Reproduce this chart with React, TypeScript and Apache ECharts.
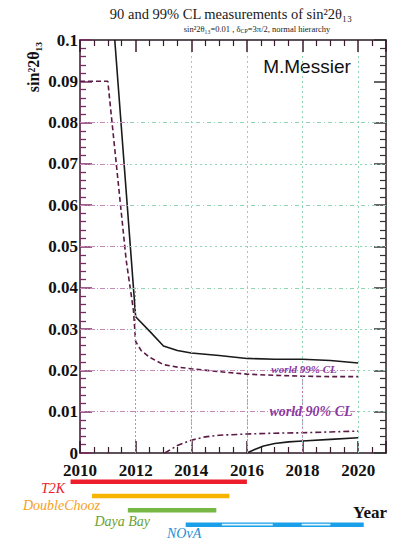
import React, { useEffect, useRef } from 'react';
import * as echarts from 'echarts';

// ---- data ----
const xMin = 2010;
const xMax = 2021;
const yMin = 0;
const yMax = 0.1;

// upper limits
const upper99: [number, number][] = [
  [2011.25, 0.1], [2012.0, 0.033], [2012.5, 0.0295], [2013.0, 0.0259], [2013.5, 0.0248],
  [2014.0, 0.0242], [2015.0, 0.0236], [2016.0, 0.0229], [2017.0, 0.0227], [2018.0, 0.0227],
  [2019.0, 0.0224], [2020.0, 0.0218],
];
const upper90: [number, number][] = [
  [2010.0, 0.09], [2011.0, 0.09], [2011.66, 0.0467], [2011.92, 0.0346], [2012.0, 0.027],
  [2012.2, 0.0248], [2012.5, 0.0232], [2013.0, 0.0214], [2013.5, 0.0208], [2014.0, 0.0204],
  [2015.0, 0.0197], [2016.0, 0.0191], [2017.0, 0.0188], [2018.0, 0.0186], [2019.0, 0.0185],
  [2020.0, 0.0185],
];
// lower limits
const lower90: [number, number][] = [
  [2013.05, 0.0], [2013.5, 0.0018], [2014.0, 0.0031], [2014.5, 0.0039], [2015.0, 0.0043],
  [2016.0, 0.0046], [2017.0, 0.0048], [2018.0, 0.0049], [2019.0, 0.0051], [2020.0, 0.0053],
];
const lower99: [number, number][] = [
  [2016.0, 0.0], [2016.3, 0.0009], [2016.6, 0.0017], [2017.0, 0.0023], [2017.5, 0.0027],
  [2018.0, 0.0029], [2019.0, 0.0033], [2020.0, 0.0037],
];

// experiments running periods
const experiments = ['T2K', 'DoubleChooz', 'Daya Bay', 'NOvA'];
const expStart = [2009.66, 2010.43, 2011.72, 2013.8];
const expEnd = [2016.0, 2015.37, 2014.9, 2020.2];
const novaHighlights: [number, number][] = [[2015.1, 2016.93], [2017.97, 2019.0]];

// grid line positions
const gridYearsGreen = [2014, 2016, 2018, 2020];
const gridYearsPink = [2012, 2014, 2016, 2018];
const gridValsGreen = [0.03, 0.04, 0.05, 0.06, 0.07, 0.08];
const gridValsPinkFull = [0.01, 0.02];

// ---- styles ----
const expColors = ['#ee1d2b', '#f7b500', '#76b843', '#1aa0e8'];
const expLabelColors = ['#e8202a', '#f5a023', '#6aa332', '#1e8fd8'];
const serif = '"Liberation Serif", "DejaVu Serif", serif';
const pink = '#c48ab8';
const green = '#8fd5b2';
const purple = '#8a3aa0';

export default function App() {
  const ref = useRef<HTMLDivElement>(null);

  useEffect(() => {
    if (!ref.current) return;
    const chart = echarts.init(ref.current, undefined, { renderer: 'svg' });

    const gridLines: any[] = [];
    gridYearsGreen.forEach((x) => {
      gridLines.push([
        { coord: [x, 0], lineStyle: { color: green, type: [2, 3], width: 1 } },
        { coord: [x, 0.097] },
      ]);
    });
    gridValsGreen.forEach((y, i) => {
      gridLines.push([
        { coord: [2011.8, y], lineStyle: { color: green, type: i % 2 === 0 ? [2, 3] : [4, 3, 1, 3], width: 1 } },
        { coord: [xMax, y] },
      ]);
      gridLines.push([
        { coord: [xMin, y], lineStyle: { color: pink, type: [5, 2, 1, 2], width: 1 } },
        { coord: [2011.8, y] },
      ]);
    });
    gridValsPinkFull.forEach((y) => {
      gridLines.push([
        { coord: [xMin, y], lineStyle: { color: pink, type: [5, 2, 1, 2], width: 1 } },
        { coord: [2020, y] },
      ]);
      gridLines.push([
        { coord: [2020, y], lineStyle: { color: green, type: [2, 3], width: 1 } },
        { coord: [xMax, y] },
      ]);
    });
    gridYearsPink.forEach((x) => {
      gridLines.push([
        { coord: [x, 0], lineStyle: { color: pink, type: [2, 2], width: 1 } },
        { coord: [x, x === 2012 ? 0.04 : 0.02] },
      ]);
    });

    const tickFont = {
      fontFamily: serif,
      fontWeight: 'bold' as const,
      fontSize: 17,
      color: '#111',
    };

    const series: any[] = [
      {
        type: 'line',
        xAxisIndex: 0,
        yAxisIndex: 0,
        data: [],
        z: 1,
        silent: true,
        markLine: {
          silent: true,
          symbol: 'none',
          label: { show: false },
          animation: false,
          data: gridLines,
        },
      },
      {
        name: 'upper99',
        type: 'line',
        xAxisIndex: 0,
        yAxisIndex: 0,
        data: upper99,
        showSymbol: false,
        z: 3,
        lineStyle: { color: '#1a1a1a', width: 1.6 },
      },
      {
        name: 'upper90',
        type: 'line',
        xAxisIndex: 0,
        yAxisIndex: 0,
        data: upper90,
        showSymbol: false,
        z: 3,
        lineStyle: { color: '#5a1a45', width: 1.6, type: [5, 3] },
      },
      {
        name: 'lower90',
        type: 'line',
        xAxisIndex: 0,
        yAxisIndex: 0,
        data: lower90,
        showSymbol: false,
        z: 3,
        lineStyle: { color: '#5a1a45', width: 1.6, type: [6, 3, 2, 3] },
      },
      {
        name: 'lower99',
        type: 'line',
        xAxisIndex: 0,
        yAxisIndex: 0,
        data: lower99,
        showSymbol: false,
        z: 3,
        lineStyle: { color: '#1a1a1a', width: 1.6 },
      },
    ];

    experiments.forEach((name, i) => {
      series.push({
        name,
        type: 'line',
        xAxisIndex: 2,
        yAxisIndex: 2,
        clip: false,
        showSymbol: false,
        silent: true,
        data: [[expStart[i], name], [expEnd[i], name]],
        lineStyle: { color: expColors[i], width: 4.5, cap: 'butt' },
        z: 2,
      });
    });
    novaHighlights.forEach(([a, b]) => {
      series.push({
        type: 'line',
        xAxisIndex: 2,
        yAxisIndex: 2,
        clip: false,
        showSymbol: false,
        silent: true,
        data: [[a, 'NOvA'], [b, 'NOvA']],
        lineStyle: { color: '#e6f6ff', width: 1.6, cap: 'butt' },
        z: 3,
      });
    });

    const axisDark = '#2a1a24';
    const leftTick = '#7a2a62';

    chart.setOption({
      animation: false,
      backgroundColor: '#ffffff',
      grid: [
        { left: 80, right: 8, top: 40, bottom: 88, containLabel: false },
        { left: 80, right: 8, top: 474.5, height: 57.3, containLabel: false },
      ],
      xAxis: [
        {
          type: 'value',
          gridIndex: 0,
          position: 'bottom',
          min: xMin,
          max: xMax,
          interval: 2,
          axisLine: { show: true, onZero: false, lineStyle: { color: axisDark, width: 1.5 } },
          axisTick: { show: true, inside: true, length: 12, lineStyle: { color: '#3a1a2c', width: 1.5 } },
          minorTick: { show: true, splitNumber: 4, length: 6, lineStyle: { color: '#3a1a2c', width: 1.2 } },
          axisLabel: {
            ...tickFont,
            margin: 9,
            formatter: (v: number) => (Math.abs(v % 2) < 1e-6 && v <= 2020 ? String(v) : ''),
          },
          splitLine: { show: false },
        },
        {
          type: 'value',
          gridIndex: 0,
          position: 'top',
          min: xMin,
          max: xMax,
          interval: 2,
          axisLine: { show: true, onZero: false, lineStyle: { color: axisDark, width: 1.5 } },
          axisTick: { show: true, inside: true, length: 12, lineStyle: { color: '#3a1a2c', width: 1.5 } },
          minorTick: { show: true, splitNumber: 4, length: 6, lineStyle: { color: '#3a1a2c', width: 1.2 } },
          axisLabel: { show: false },
          splitLine: { show: false },
        },
        {
          type: 'value',
          gridIndex: 1,
          min: xMin,
          max: xMax,
          show: false,
        },
      ],
      yAxis: [
        {
          type: 'value',
          gridIndex: 0,
          position: 'left',
          min: yMin,
          max: yMax,
          interval: 0.01,
          axisLine: { show: true, onZero: false, lineStyle: { color: '#3d1530', width: 1.5 } },
          axisTick: { show: true, inside: true, length: 12, lineStyle: { color: leftTick, width: 1.5 } },
          minorTick: { show: true, splitNumber: 5, length: 6, lineStyle: { color: leftTick, width: 1.3 } },
          axisLabel: {
            ...tickFont,
            margin: 2,
            formatter: (v: number) => (v === 0 ? '0' : v > 0.0995 ? '0.1' : v.toFixed(2)),
          },
          splitLine: { show: false },
        },
        {
          type: 'value',
          gridIndex: 0,
          position: 'right',
          min: yMin,
          max: yMax,
          interval: 0.01,
          axisLine: { show: true, onZero: false, lineStyle: { color: axisDark, width: 1.5 } },
          axisTick: { show: true, inside: true, length: 12, lineStyle: { color: '#333', width: 1.5 } },
          minorTick: { show: true, splitNumber: 5, length: 6, lineStyle: { color: '#333', width: 1.2 } },
          axisLabel: { show: false },
          splitLine: { show: false },
        },
        {
          type: 'category',
          gridIndex: 1,
          data: experiments,
          inverse: true,
          show: false,
        },
      ],
      series,
      graphic: [
        {
          type: 'text',
          x: 231,
          y: 14,
          style: {
            text: '90 and 99% CL measurements of sin²2θ₁₃',
            font: `14.5px ${serif}`,
            fill: '#1a1a1a',
            align: 'center',
            verticalAlign: 'middle',
          },
        },
        {
          type: 'text',
          x: 257,
          y: 29,
          style: {
            text: '{n|sin²2θ₁₃=0.01 , δ}{s|CP}{n|=3π/2, normal hierarchy}',
            rich: {
              n: { fontFamily: serif, fontSize: 8.5, fill: '#222', color: '#222' },
              s: { fontFamily: serif, fontSize: 6, fill: '#222', color: '#222', padding: [4, 0, 0, 0] },
            },
            align: 'center',
            verticalAlign: 'middle',
          },
        },
        {
          type: 'text',
          x: 33,
          y: 67,
          rotation: Math.PI / 2,
          style: {
            text: 'sin²2θ₁₃',
            font: `bold 16px ${serif}`,
            fill: '#111',
            align: 'center',
            verticalAlign: 'middle',
          },
        },
        {
          type: 'text',
          x: 307,
          y: 66,
          style: {
            text: 'M.Messier',
            font: '19px "Liberation Sans", Arial, sans-serif',
            fill: '#111',
            align: 'center',
            verticalAlign: 'middle',
          },
        },
        {
          type: 'text',
          x: 304,
          y: 369,
          style: {
            text: 'world 99% CL',
            font: `italic bold 11px ${serif}`,
            fill: purple,
            align: 'center',
            verticalAlign: 'middle',
          },
          z: 10,
        },
        {
          type: 'text',
          x: 311,
          y: 411.5,
          style: {
            text: 'world 90% CL',
            font: `italic bold 14px ${serif}`,
            fill: purple,
            align: 'center',
            verticalAlign: 'middle',
          },
          z: 10,
        },
        {
          type: 'text',
          x: 370,
          y: 512,
          style: {
            text: 'Year',
            font: `bold 17px ${serif}`,
            fill: '#111',
            align: 'center',
            verticalAlign: 'middle',
          },
        },
        {
          type: 'text',
          x: 65,
          y: 488,
          style: { text: experiments[0], font: `italic 14px ${serif}`, fill: expLabelColors[0], align: 'right', verticalAlign: 'middle' },
        },
        {
          type: 'text',
          x: 100,
          y: 505.5,
          style: { text: experiments[1], font: `italic 14px ${serif}`, fill: expLabelColors[1], align: 'right', verticalAlign: 'middle' },
        },
        {
          type: 'text',
          x: 150,
          y: 521.5,
          style: { text: experiments[2], font: `italic 14px ${serif}`, fill: expLabelColors[2], align: 'right', verticalAlign: 'middle' },
        },
        {
          type: 'text',
          x: 167,
          y: 533.5,
          style: { text: experiments[3], font: `italic 14px ${serif}`, fill: expLabelColors[3], align: 'left', verticalAlign: 'middle' },
        },
      ],
    });

    return () => chart.dispose();
  }, []);

  return (
    <div
      ref={ref}
      style={{ position: 'fixed', left: 0, top: 0, width: 394, height: 541, background: '#fff' }}
    />
  );
}
